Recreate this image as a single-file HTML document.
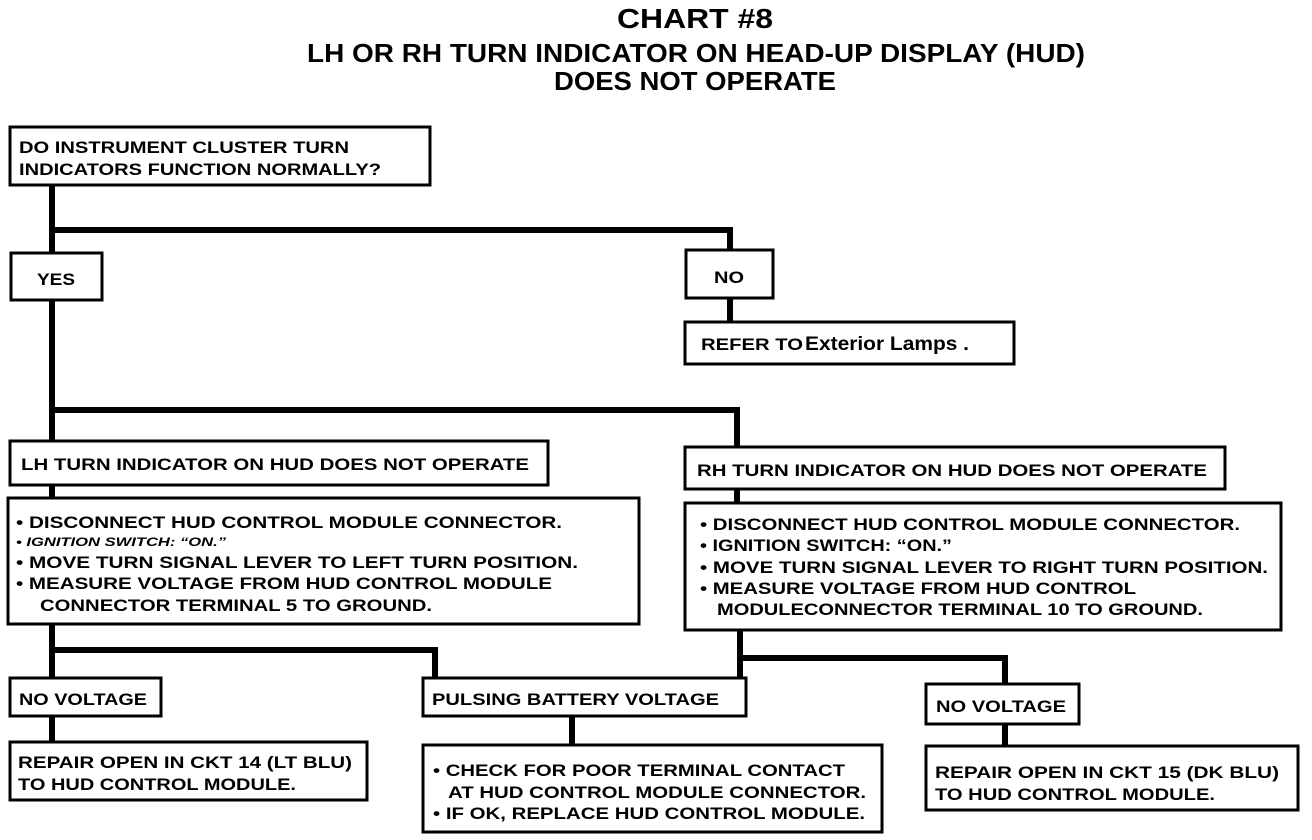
<!DOCTYPE html>
<html><head><meta charset="utf-8"><style>
html,body{margin:0;padding:0;background:#fff;}
svg{display:block;}
text{font-family:"Liberation Sans",Arial,sans-serif;font-weight:bold;fill:#000;}
</style></head><body>
<svg width="1312" height="840" viewBox="0 0 1312 840" xmlns="http://www.w3.org/2000/svg">
<g font-size="26" text-anchor="middle">
<text x="695" y="28" font-size="28" textLength="156" lengthAdjust="spacingAndGlyphs">CHART #8</text>
<text x="696" y="62" textLength="778" lengthAdjust="spacingAndGlyphs">LH OR RH TURN INDICATOR ON HEAD-UP DISPLAY (HUD)</text>
<text x="695" y="90" textLength="282" lengthAdjust="spacingAndGlyphs">DOES NOT OPERATE</text>
</g>
<g stroke="#000" stroke-width="6" fill="none">
<polyline points="52,185 52,441"/>
<polyline points="52,230 730,230 730,250"/>
<line x1="730" y1="298" x2="730" y2="322"/>
<polyline points="52,410 737,410 737,447"/>
<line x1="52" y1="485" x2="52" y2="498"/>
<line x1="737" y1="489" x2="737" y2="503"/>
<polyline points="52,624 52,678"/>
<polyline points="52,650 435,650 435,678"/>
<polyline points="740,630 740,680"/>
<polyline points="740,658 1005,658 1005,684"/>
<line x1="52" y1="716" x2="52" y2="742"/>
<line x1="572" y1="716" x2="572" y2="745"/>
<line x1="1005" y1="724" x2="1005" y2="746"/>
</g>
<g stroke="#000" stroke-width="3" fill="#fff">
<rect x="10" y="127" width="420" height="58"/>
<rect x="11" y="253" width="91" height="47"/>
<rect x="686" y="250" width="87" height="48"/>
<rect x="685" y="322" width="329" height="42"/>
<rect x="10" y="441" width="538" height="44"/>
<rect x="8" y="498" width="631" height="126"/>
<rect x="685" y="447" width="540" height="42"/>
<rect x="685" y="503" width="596" height="127"/>
<rect x="10" y="678" width="151" height="38"/>
<rect x="423" y="678" width="323" height="38"/>
<rect x="926" y="684" width="153" height="40"/>
<rect x="10" y="742" width="357" height="58"/>
<rect x="423" y="745" width="459" height="87"/>
<rect x="926" y="746" width="372" height="64"/>
</g>
<g font-size="17">
<text x="19" y="153" textLength="330" lengthAdjust="spacingAndGlyphs">DO INSTRUMENT CLUSTER TURN</text>
<text x="19" y="175" textLength="362" lengthAdjust="spacingAndGlyphs">INDICATORS FUNCTION NORMALLY?</text>
<text x="37" y="285" textLength="38" lengthAdjust="spacingAndGlyphs">YES</text>
<text x="714" y="283" textLength="30" lengthAdjust="spacingAndGlyphs">NO</text>
<text x="701" y="350" textLength="102" lengthAdjust="spacingAndGlyphs">REFER TO</text>
<text x="805" y="350" font-size="19" textLength="164" lengthAdjust="spacingAndGlyphs">Exterior  Lamps .</text>
<text x="21" y="470" textLength="508" lengthAdjust="spacingAndGlyphs">LH TURN INDICATOR ON HUD DOES NOT OPERATE</text>
<text x="16" y="528" textLength="546" lengthAdjust="spacingAndGlyphs">• DISCONNECT HUD CONTROL MODULE CONNECTOR.</text>
<text x="16" y="546" font-size="12" font-style="italic" textLength="210" lengthAdjust="spacingAndGlyphs">• IGNITION SWITCH: “ON.”</text>
<text x="16" y="568" textLength="562" lengthAdjust="spacingAndGlyphs">• MOVE TURN SIGNAL LEVER TO LEFT TURN POSITION.</text>
<text x="16" y="589" textLength="536" lengthAdjust="spacingAndGlyphs">• MEASURE VOLTAGE FROM HUD CONTROL MODULE</text>
<text x="40" y="611" textLength="392" lengthAdjust="spacingAndGlyphs">CONNECTOR TERMINAL 5 TO GROUND.</text>
<text x="697" y="476" textLength="510" lengthAdjust="spacingAndGlyphs">RH TURN INDICATOR ON HUD DOES NOT OPERATE</text>
<text x="700" y="530" textLength="540" lengthAdjust="spacingAndGlyphs">• DISCONNECT HUD CONTROL MODULE CONNECTOR.</text>
<text x="700" y="551" textLength="252" lengthAdjust="spacingAndGlyphs">• IGNITION SWITCH: “ON.”</text>
<text x="700" y="573" textLength="568" lengthAdjust="spacingAndGlyphs">• MOVE TURN SIGNAL LEVER TO RIGHT TURN POSITION.</text>
<text x="700" y="594" textLength="436" lengthAdjust="spacingAndGlyphs">• MEASURE VOLTAGE FROM HUD CONTROL</text>
<text x="717" y="615" textLength="486" lengthAdjust="spacingAndGlyphs">MODULECONNECTOR TERMINAL 10 TO GROUND.</text>
<text x="19" y="705" textLength="128" lengthAdjust="spacingAndGlyphs">NO VOLTAGE</text>
<text x="432" y="705" textLength="287" lengthAdjust="spacingAndGlyphs">PULSING BATTERY VOLTAGE</text>
<text x="936" y="712" textLength="130" lengthAdjust="spacingAndGlyphs">NO VOLTAGE</text>
<text x="18" y="768" textLength="334" lengthAdjust="spacingAndGlyphs">REPAIR OPEN IN CKT 14 (LT BLU)</text>
<text x="18" y="790" textLength="278" lengthAdjust="spacingAndGlyphs">TO HUD CONTROL MODULE.</text>
<text x="433" y="776" textLength="412" lengthAdjust="spacingAndGlyphs">• CHECK FOR POOR TERMINAL CONTACT</text>
<text x="448" y="798" textLength="418" lengthAdjust="spacingAndGlyphs">AT HUD CONTROL MODULE CONNECTOR.</text>
<text x="433" y="819" textLength="432" lengthAdjust="spacingAndGlyphs">• IF OK, REPLACE HUD CONTROL MODULE.</text>
<text x="935" y="778" textLength="344" lengthAdjust="spacingAndGlyphs">REPAIR OPEN IN CKT 15 (DK BLU)</text>
<text x="935" y="800" textLength="280" lengthAdjust="spacingAndGlyphs">TO HUD CONTROL MODULE.</text>
</g>
</svg>
</body></html>
